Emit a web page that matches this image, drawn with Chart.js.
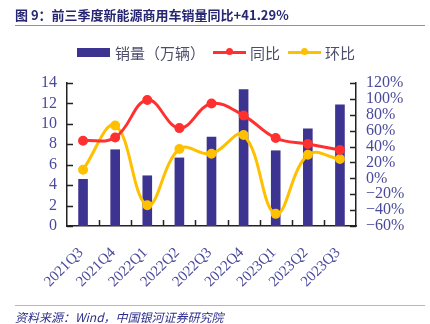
<!DOCTYPE html>
<html>
<head>
<meta charset="utf-8">
<script src="https://cdn.jsdelivr.net/npm/chart.js@4.4.0/dist/chart.umd.min.js"></script>
<style>
  html, body { margin: 0; padding: 0; background: #fff; }
  #wrap { position: relative; width: 430px; height: 324px; overflow: hidden; }
  #chart { position: absolute; left: 0; top: 0; }
  .title {
    position: absolute; left: 15px; top: 5px;
    font: bold 13px "Noto Sans CJK SC", sans-serif; color: #262673;
  }
  .title-rule { position: absolute; left: 15px; top: 25px; width: 410px; height: 1px; background: #8d8bd0; }
  .legend {
    position: absolute; left: 77px; top: 42px; height: 20px;
    display: flex; align-items: center;
    font: 15px "Noto Sans CJK SC", sans-serif; color: #4d4d6b;
  }
  .legend .box { width: 33px; height: 9px; background: #3d3492; margin-right: 5px; }
  .legend .ln { position: relative; width: 33px; height: 3px; margin-right: 4px; }
  .legend .ln i { position: absolute; left: 13px; top: -2.5px; width: 7px; height: 7px; border-radius: 50%; }
  .legend .txt { margin-right: 8px; }
  .foot-rule { position: absolute; left: 15px; top: 305px; width: 410px; height: 1px; background: #b3b1e3; }
  .foot {
    position: absolute; left: 15px; top: 308px;
    font: italic 12px "Noto Sans CJK SC", sans-serif; color: #2e2e8a;
  }
</style>
</head>
<body>
<div id="wrap">
  <canvas id="chart" width="430" height="324"></canvas>
  <div class="title">图 9：前三季度新能源商用车销量同比+41.29%</div>
  <div class="title-rule"></div>
  <div class="legend">
    <span class="box"></span><span class="txt">销量（万辆）</span>
    <span class="ln" style="background:#ff3030"><i style="background:#ff3030"></i></span><span class="txt">同比</span>
    <span class="ln" style="background:#ffc000"><i style="background:#ffc000"></i></span><span class="txt">环比</span>
  </div>
  <div class="foot-rule"></div>
  <div class="foot">资料来源：Wind，中国银河证券研究院</div>
</div>
<script>
// 季度
const quarters = ['2021Q3', '2021Q4', '2022Q1', '2022Q2', '2022Q3', '2022Q4', '2023Q1', '2023Q2', '2023Q3'];
// 销量（万辆）
const sales = [4.6, 7.5, 4.95, 6.7, 8.75, 13.4, 7.4, 9.55, 11.9];
// 同比（%）
const yoy = [47.3, 51.4, 98.7, 63.2, 94.1, 79, 50.7, 43.2, 35.6];
// 环比（%）
const qoq = [10.9, 66.5, -33.9, 36.9, 31, 54.5, -44.7, 29.7, 24.3];

const tickColor = '#4a4a9c';
const serif = "'Liberation Serif', 'Times New Roman', 'DejaVu Serif', serif";
const tickFont = { family: serif, size: 16 };
const axisColor = '#222';
Chart.defaults.font.family = serif;

// 坐标轴刻度线朝内
const innerTicks = {
  id: 'innerTicks',
  afterDatasetsDraw(chart) {
    const ctx = chart.ctx;
    const { left, right, top, bottom } = chart.chartArea;
    const x = chart.scales.x, y = chart.scales.y, y1 = chart.scales.y1;
    const len = 6;
    ctx.save();
    ctx.strokeStyle = axisColor;
    ctx.lineWidth = 1.5;
    ctx.beginPath();
    y.ticks.forEach(t => {
      const p = Math.round(y.getPixelForValue(t.value)) + 0.5;
      ctx.moveTo(left, p); ctx.lineTo(left + len, p);
    });
    y1.ticks.forEach(t => {
      const p = Math.round(y1.getPixelForValue(t.value)) + 0.5;
      ctx.moveTo(right, p); ctx.lineTo(right - len, p);
    });
    const step = x.getPixelForValue(1) - x.getPixelForValue(0);
    for (let i = 1; i < quarters.length; i++) {
      const p = Math.round(x.getPixelForValue(i) - step / 2) + 0.5;
      ctx.moveTo(p, bottom); ctx.lineTo(p, bottom - len);
    }
    ctx.stroke();
    ctx.restore();
  }
};

new Chart(document.getElementById('chart'), {
  data: {
    labels: quarters,
    datasets: [
      {
        type: 'line', label: '同比', data: yoy, yAxisID: 'y1',
        borderColor: '#ff3030', backgroundColor: '#ff3030',
        borderWidth: 3, pointRadius: 3.5, tension: 0.4, order: 1
      },
      {
        type: 'line', label: '环比', data: qoq, yAxisID: 'y1',
        borderColor: '#ffc000', backgroundColor: '#ffc000',
        borderWidth: 3, pointRadius: 3.5, tension: 0.4, order: 2
      },
      {
        type: 'bar', label: '销量（万辆）', data: sales, yAxisID: 'y',
        backgroundColor: '#3d3492', barPercentage: 0.3, categoryPercentage: 1, order: 3
      }
    ]
  },
  options: {
    responsive: false,
    animation: false,
    layout: { padding: { top: 83, left: 0, right: 0, bottom: 0 } },
    plugins: { legend: { display: false }, tooltip: { enabled: false } },
    scales: {
      x: {
        grid: { display: false, drawTicks: false },
        border: { color: axisColor, width: 1.5 },
        ticks: {
          color: tickColor, font: { family: serif, size: 15 },
          minRotation: 45, maxRotation: 45, padding: 18, labelOffset: -2, autoSkip: false
        },
        afterFit(s) { s.height = 98; }
      },
      y: {
        position: 'left', min: 0, max: 14,
        grid: { display: false, drawTicks: false },
        border: { color: axisColor, width: 1.5 },
        ticks: { stepSize: 2, color: tickColor, font: tickFont, padding: 10, autoSkip: false },
        afterFit(s) { s.width = 67; }
      },
      y1: {
        position: 'right', min: -60, max: 120,
        grid: { display: false, drawTicks: false },
        border: { color: axisColor, width: 1.5 },
        ticks: {
          stepSize: 20, color: tickColor, font: tickFont, padding: 10, autoSkip: false,
          callback: v => (v < 0 ? '\u2212' + (-v) : v) + '%'
        },
        afterFit(s) { s.width = 74; }
      }
    }
  },
  plugins: [innerTicks]
});
</script>
</body>
</html>
